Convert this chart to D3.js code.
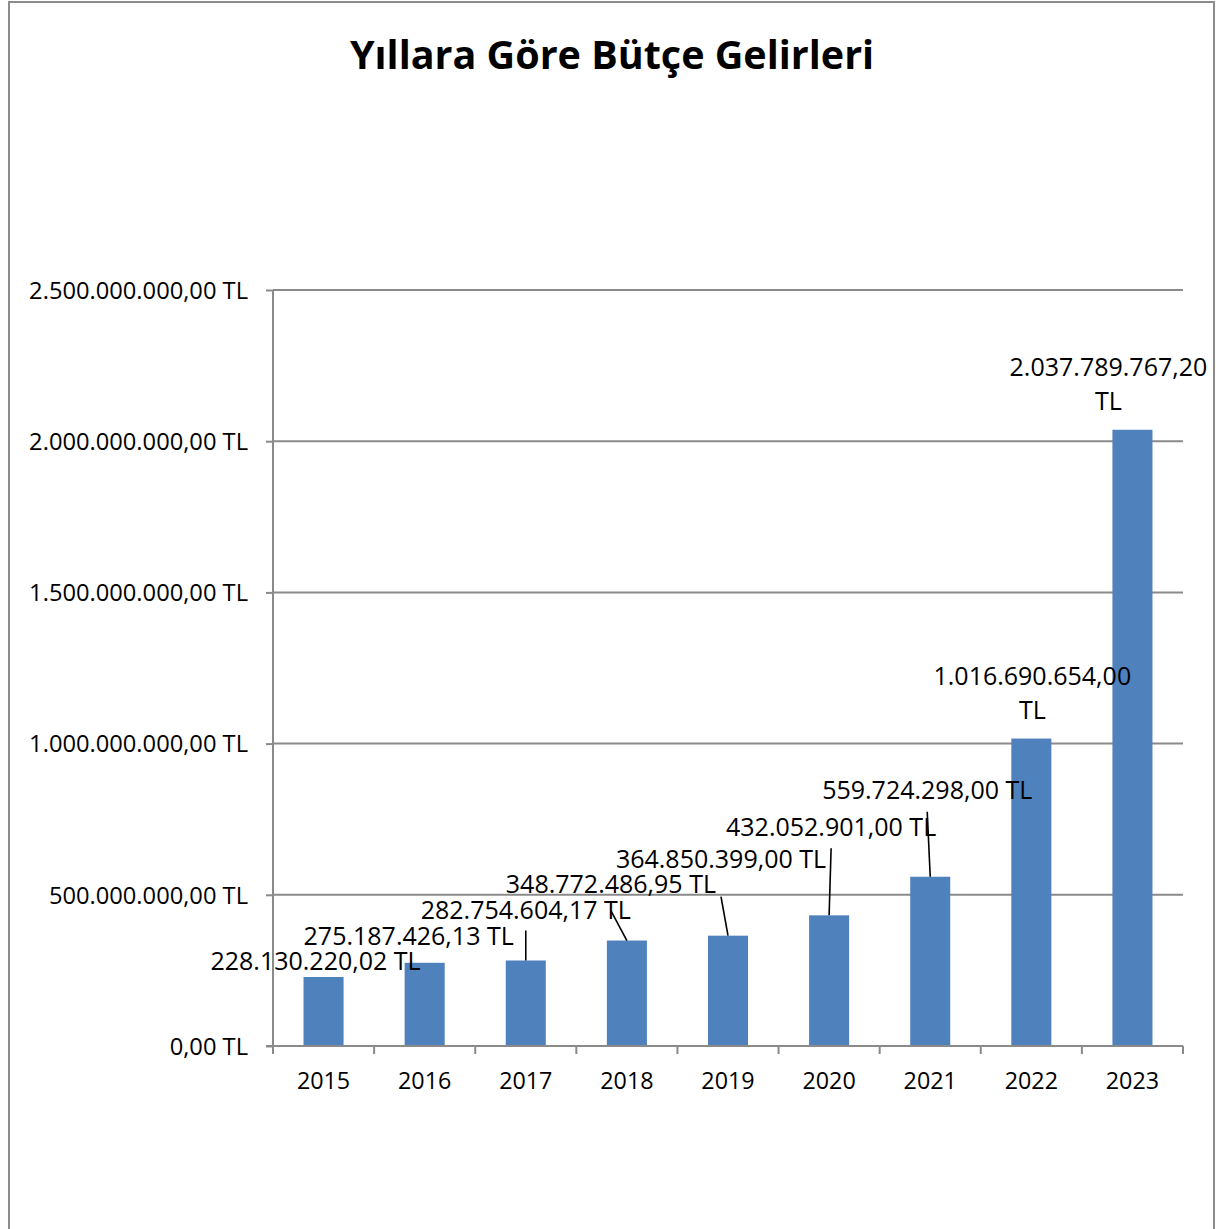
<!DOCTYPE html>
<html>
<head>
<meta charset="utf-8">
<script src="https://cdn.jsdelivr.net/npm/d3@7"></script>
<style>
  body { margin: 0; background: #fff; }
  text { font-family: "Open Sans", "Noto Sans", sans-serif; fill: #000; }
</style>
</head>
<body>
<svg id="vis"></svg>
<script>
const width = 1222;
const height = 1229;

// data
const years = ["2015", "2016", "2017", "2018", "2019", "2020", "2021", "2022", "2023"];
const revenues = [228130220.02, 275187426.13, 282754604.17, 348772486.95, 364850399.00,
                  432052901.00, 559724298.00, 1016690654.00, 2037789767.20];
const yTicks = [0, 500000000, 1000000000, 1500000000, 2000000000, 2500000000];
const title = "Yıllara Göre Bütçe Gelirleri";

// label placement (offset from bar top centre), leader line end, wrapped or not
const labelDx = [-8, -16, 0, -16, -7, 2, -3, 1, -24];
const labelDy = [-16, -27, -50, -56, -76, -88, -86, -62, -62];
const leaderDy = [null, null, 20, 26, 37, 21, 21, null, null];
const wrapLabel = [false, false, false, false, false, false, false, true, true];

const tr = d3.formatLocale({decimal: ",", thousands: ".", grouping: [3], currency: ["", " TL"]});
const money = tr.format("$,.2f");
const moneyNoUnit = tr.format(",.2f");

const margin = {left: 273, right: 39, top: 290, bottom: 183};

const x = d3.scaleBand()
    .domain(years)
    .range([margin.left, width - margin.right]);

const y = d3.scaleLinear()
    .domain([0, 2500000000])
    .range([height - margin.bottom, margin.top]);

const barW = x.bandwidth() * 0.396;

let svg = d3.select("#vis")
    .attr("width", width)
    .attr("height", height);

// outer border
svg.append("rect")
    .attr("x", 9).attr("y", 2)
    .attr("width", 1205).attr("height", 1240)
    .attr("fill", "none")
    .attr("stroke", "#8c8c8c")
    .attr("stroke-width", 2);

svg.append("text")
    .attr("x", 612)
    .attr("y", 69)
    .attr("text-anchor", "middle")
    .style("font-size", "39.5px")
    .style("font-weight", "bold")
    .text(title);

// gridlines
svg.append("g")
    .selectAll("line")
    .data(yTicks.slice(1))
    .enter()
    .append("line")
      .attr("x1", margin.left)
      .attr("x2", width - margin.right)
      .attr("y1", d => y(d))
      .attr("y2", d => y(d))
      .attr("stroke", "#8a8a8a")
      .attr("stroke-width", 2);

// y axis
let yAxis = svg.append("g")
    .attr("transform", `translate(${margin.left},0)`)
    .call(d3.axisLeft(y).tickValues(yTicks).tickFormat(money).tickSize(7).tickPadding(18));
yAxis.selectAll("text").style("font-size", "23.7px").attr("dy", "0.35em");
yAxis.select(".domain").attr("stroke", "#8a8a8a").attr("stroke-width", 2).attr("d", `M0,${y(2500000000)}V${y(0)}`);
yAxis.selectAll(".tick line").attr("stroke", "#8a8a8a").attr("stroke-width", 2);

// bars
svg.append("g")
    .selectAll("rect")
    .data(revenues)
    .enter()
    .append("rect")
      .attr("x", (d, i) => x(years[i]) + x.bandwidth() / 2 - barW / 2)
      .attr("y", d => y(d))
      .attr("width", barW)
      .attr("height", d => y(0) - y(d))
      .attr("fill", "#4f81bd");

// x axis
let xg = svg.append("g")
    .attr("transform", `translate(0,${y(0)})`);
xg.append("line")
    .attr("x1", margin.left - 7).attr("x2", width - margin.right)
    .attr("stroke", "#8a8a8a").attr("stroke-width", 2);
xg.selectAll("line.tk")
    .data(years.concat(["end"]))
    .enter()
    .append("line")
      .attr("class", "tk")
      .attr("x1", (d, i) => margin.left + i * x.step())
      .attr("x2", (d, i) => margin.left + i * x.step())
      .attr("y1", 0).attr("y2", 8)
      .attr("stroke", "#8a8a8a").attr("stroke-width", 2);
xg.selectAll("text")
    .data(years)
    .enter()
    .append("text")
      .attr("x", d => x(d) + x.bandwidth() / 2)
      .attr("y", 43)
      .attr("text-anchor", "middle")
      .style("font-size", "23.3px")
      .text(d => d);

// leader lines
let lg = svg.append("g");
revenues.forEach((d, i) => {
    if (leaderDy[i] == null) return;
    let cx = x(years[i]) + x.bandwidth() / 2;
    lg.append("line")
        .attr("x1", cx).attr("y1", y(d))
        .attr("x2", cx + labelDx[i]).attr("y2", y(d) + labelDy[i] + leaderDy[i])
        .attr("stroke", "#000").attr("stroke-width", 1.6);
});

// data labels
let labels = svg.append("g")
    .selectAll("text")
    .data(revenues)
    .enter()
    .append("text")
      .attr("text-anchor", "middle")
      .attr("x", (d, i) => x(years[i]) + x.bandwidth() / 2 + labelDx[i])
      .attr("y", (d, i) => y(d) + labelDy[i])
      .attr("dy", "0.35em")
      .style("font-size", "25px");

labels.each(function(d, i) {
    let t = d3.select(this);
    if (wrapLabel[i]) {
        t.attr("dy", null);
        let cx = +t.attr("x");
        let cy = +t.attr("y");
        t.append("tspan").attr("x", cx).attr("y", cy + 8).text(moneyNoUnit(d));
        t.append("tspan").attr("x", cx).attr("y", cy + 42).text("TL");
    } else {
        t.text(money(d));
    }
});
</script>
</body>
</html>
